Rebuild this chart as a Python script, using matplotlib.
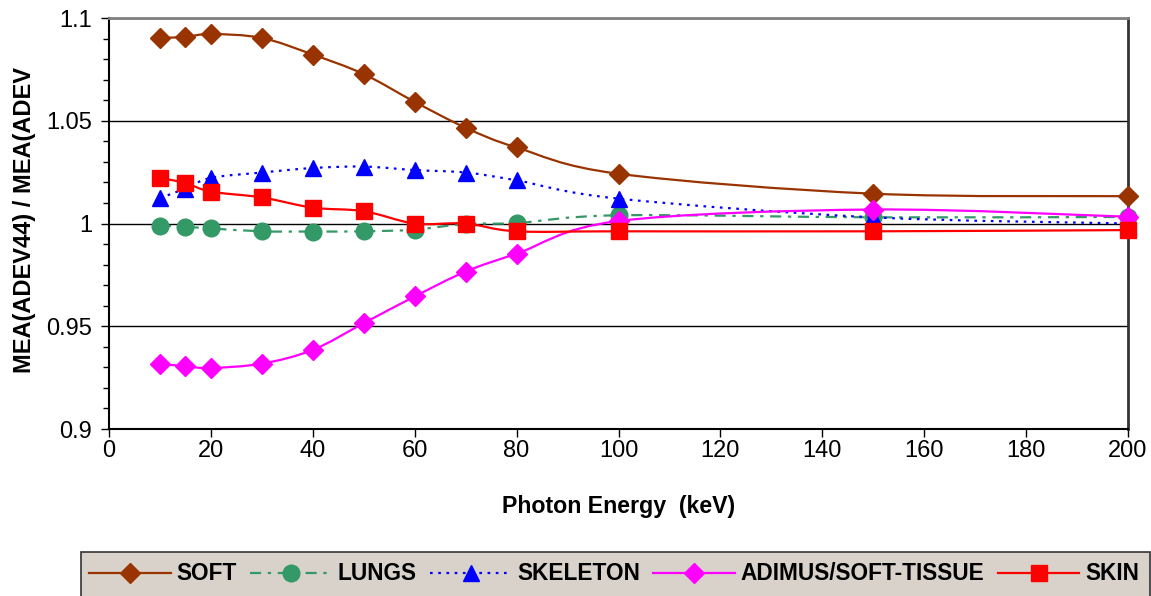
import numpy as np
import matplotlib.pyplot as plt
from matplotlib.path import Path
from matplotlib.patches import PathPatch, Rectangle
from matplotlib.lines import Line2D
from matplotlib.ticker import MultipleLocator

plt.rcParams['font.family'] = ['Liberation Sans', 'DejaVu Sans']

# photon energies (keV)
energy = [10, 15, 20, 30, 40, 50, 60, 70, 80, 100, 150, 200]

soft = [1.0903, 1.0908, 1.0922, 1.0903, 1.0822, 1.0727, 1.0592, 1.0466, 1.0370, 1.0242, 1.0145, 1.0133]
lungs = [0.9990, 0.9984, 0.9976, 0.9962, 0.9961, 0.9962, 0.9970, 0.9998, 1.0002, 1.0040, 1.0030, 1.0032]
skeleton = [1.0124, 1.0170, 1.0222, 1.0248, 1.0270, 1.0277, 1.0260, 1.0248, 1.0210, 1.0121, 1.0030, 1.0000]
adimus = [0.9318, 0.9305, 0.9297, 0.9318, 0.9385, 0.9515, 0.9645, 0.9766, 0.9853, 1.0012, 1.0068, 1.0033]
skin = [1.0222, 1.0197, 1.0155, 1.0127, 1.0077, 1.0060, 1.0000, 1.0000, 0.9962, 0.9962, 0.9962, 0.9968]

names = ['SOFT', 'LUNGS', 'SKELETON', 'ADIMUS/SOFT-TISSUE', 'SKIN']
series = [soft, lungs, skeleton, adimus, skin]
colors = ['#993300', '#339966', '#0000FF', '#FF00FF', '#FF0000']
markers = ['D', 'o', '^', 'D', 's']
msizes = [10.5, 12, 12, 10.5, 12]
lstyles = ['-', (0, (5, 3, 1.5, 3)), (0, (1.2, 2.5)), '-', '-']


def smooth_path(x, y):
    # Excel-like smoothed line: Catmull-Rom turned into cubic bezier segments
    pts = np.column_stack([x, y]).astype(float)
    ext = np.vstack([pts[0], pts, pts[-1]])
    verts = [pts[0]]
    codes = [Path.MOVETO]
    for i in range(1, len(ext) - 2):
        p0, p1, p2, p3 = ext[i - 1], ext[i], ext[i + 1], ext[i + 2]
        verts += [p1 + (p2 - p0) / 6, p2 - (p3 - p1) / 6, p2]
        codes += [Path.CURVE4] * 3
    return Path(verts, codes)


fig = plt.figure(figsize=(11.51, 5.96), dpi=100)
ax = fig.add_axes([109 / 1151, 1 - 429 / 596, 1019 / 1151, 411 / 596])

handles = []
for k, (name, vals) in enumerate(zip(names, series)):
    patch = PathPatch(smooth_path(energy, vals), facecolor='none', edgecolor=colors[k],
                      lw=1.6, linestyle=lstyles[k], zorder=3 + 2 * k)
    ax.add_patch(patch)
    ax.plot(energy, vals, linestyle='none', marker=markers[k], markersize=msizes[k],
            color=colors[k], markeredgecolor=colors[k], zorder=4 + 2 * k, clip_on=False)
    handles.append(Line2D([], [], color=colors[k], lw=1.6, linestyle=lstyles[k],
                          marker=markers[k], markersize=msizes[k]))

ax.set_xlim(0, 200)
ax.set_ylim(0.9, 1.1)
ax.xaxis.set_major_locator(MultipleLocator(20))
ax.yaxis.set_minor_locator(MultipleLocator(0.01))
ax.set_yticks([0.9, 0.95, 1.0, 1.05, 1.1])
ax.set_yticklabels(['0.9', '0.95', '1', '1.05', '1.1'])
ax.grid(axis='y', which='major', color='black', lw=1)
ax.tick_params(axis='both', which='major', labelsize=17, length=6, width=1, direction='out')
ax.tick_params(axis='x', which='major', pad=2)
ax.tick_params(axis='y', which='major', pad=6)
ax.tick_params(axis='y', which='minor', length=4, width=1)
for s in ['left', 'bottom']:
    ax.spines[s].set_color('black')
    ax.spines[s].set_linewidth(1.5)
ax.spines['top'].set_color('#808080')
ax.spines['top'].set_linewidth(2)
ax.spines['right'].set_color('#333333')
ax.spines['right'].set_linewidth(2)

ax.set_xlabel('Photon Energy  (keV)', fontsize=16.7, fontweight='bold', labelpad=24)
fig.text(25 / 1151, 1 - 220 / 596, 'MEA(ADEV44) / MEA(ADEV', rotation=90, fontsize=17,
         fontweight='bold', ha='center', va='center')

fig.patches.append(Rectangle((81 / 1151, -0.01), 1069 / 1151, (596 - 552) / 596 + 0.01,
                             transform=fig.transFigure, facecolor='#D9D2CB',
                             edgecolor='#333333', lw=1.2))
fig.legend(handles=handles, labels=names, loc='center left', ncol=5,
           bbox_to_anchor=(89 / 1151, 1 - 574 / 596), frameon=False,
           prop={'weight': 'bold', 'size': 16.3}, handlelength=3.6, handletextpad=0.25,
           columnspacing=0.6, borderaxespad=0, borderpad=0)

fig.savefig('out.png', dpi=100)
